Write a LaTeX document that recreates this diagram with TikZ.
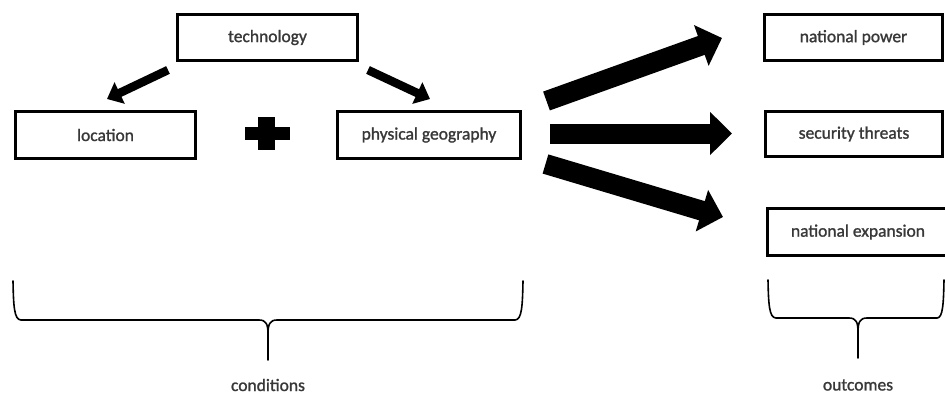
\documentclass[tikz,border=0pt]{standalone}
\usepackage{fontspec}
\setmainfont{Carlito}[BoldFont=Carlito, BoldFeatures={FakeBold=1.3}]
\usetikzlibrary{arrows.meta}
\begin{document}
\begin{tikzpicture}[x=1pt,y=-1pt,
  box/.style={draw, line width=2.6pt, inner sep=0pt, font=\fontsize{17.5}{19}\selectfont\bfseries, text=black!78},
  lbl/.style={inner sep=0pt, font=\fontsize{17.5}{19}\selectfont\bfseries, text=black!78},
  smallarrow/.style={line width=8.5pt, -{Triangle[length=14pt,width=23pt]}},
  bigarrow/.style={line width=20pt, -{Triangle[length=22pt,width=42pt]}},
  brace/.style={line width=1.6pt, line join=round, line cap=round}]
\useasboundingbox (0,0) rectangle (945,394);
% boxes
\node[box, minimum width=180pt, minimum height=46pt] (tech) at (267.5,37.5) {technology};
\node[box, minimum width=180pt, minimum height=47pt] (loc) at (105.5,135) {location};
\node[box, minimum width=183pt, minimum height=47pt] (phys) at (429,135) {physical geography};
\node[box, minimum width=178pt, minimum height=46pt] (power) at (853.5,37.5) {national power};
\node[box, minimum width=177pt, minimum height=45pt] (threat) at (854,134) {security threats};
\node[box, minimum width=181pt, minimum height=47pt] (expan) at (858,232) {national expansion};
% plus sign
\fill (245,127) rectangle (290,140);
\fill (258,117) rectangle (275,150);
% small arrows
\coordinate (la0) at (168,70);
\coordinate (la1) at (107,99);
\coordinate (ra0) at (368,70);
\coordinate (ra1) at (430,99);
\draw[smallarrow] (la0) -- (la1);
\draw[smallarrow] (ra0) -- (ra1);
% big arrows
\coordinate (ta0) at (546.5,101);
\coordinate (ta1) at (722,38);
\coordinate (ma0) at (550,133.5);
\coordinate (ma1) at (732,133.5);
\coordinate (ba0) at (545.5,164);
\coordinate (ba1) at (723,217);
\draw[bigarrow] (ta0) -- (ta1);
\draw[bigarrow] (ma0) -- (ma1);
\draw[bigarrow] (ba0) -- (ba1);
% braces
\draw[brace] (13,281) .. controls (13.5,305) and (14,320) .. (21,320) -- (259,320)
  .. controls (266,320) and (268,324) .. (268,334) -- (268,360);
\draw[brace] (268,334) .. controls (268,324) and (270,320) .. (277,320) -- (515,320)
  .. controls (522,320) and (522.5,305) .. (523,281);
\draw[brace] (768,280) .. controls (768.5,303) and (769,318) .. (776,318) -- (849,318)
  .. controls (856,318) and (858,322) .. (858,332) -- (858,358);
\draw[brace] (858,332) .. controls (858,322) and (860,318) .. (867,318) -- (937,318)
  .. controls (943,318) and (943.5,303) .. (944,280);
% labels
\node[lbl] (cond) at (268,385) {conditions};
\node[lbl] (outc) at (858,385) {outcomes};
\end{tikzpicture}
\end{document}
